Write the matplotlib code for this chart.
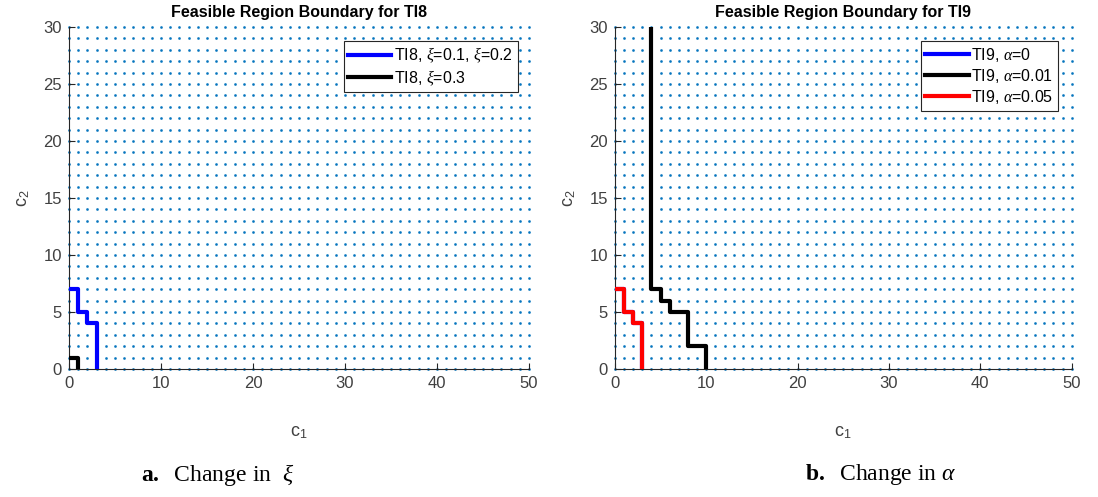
import numpy as np
import matplotlib
matplotlib.use("Agg")
import matplotlib.pyplot as plt

plt.rcParams["font.family"] = ["Liberation Sans", "DejaVu Sans"]
plt.rcParams["mathtext.fontset"] = "custom"
plt.rcParams["mathtext.rm"] = "Liberation Sans"
plt.rcParams["mathtext.it"] = "Liberation Serif:italic"
plt.rcParams["mathtext.bf"] = "Liberation Serif:bold"

MATLAB_BLUE = "#0072BD"
AXIS_GRAY = "#262626"

# feasible-region grid (integer points)
c1_grid = np.arange(0, 51)
c2_grid = np.arange(0, 31)

# boundary corners, drawn with steps-post
ti8_xi12_c1 = [0, 1, 2, 3]
ti8_xi12_c2 = [7, 5, 4, 0]
ti8_xi3_c1 = [0, 1]
ti8_xi3_c2 = [1, 0]

ti9_a0_c1 = [0, 1, 2, 3]
ti9_a0_c2 = [7, 5, 4, 0]
ti9_a001_c1 = [4, 4, 5, 6, 8, 10]
ti9_a001_c2 = [30, 7, 6, 5, 2, 0]
ti9_a005_c1 = [0, 1, 2, 3]
ti9_a005_c2 = [7, 5, 4, 0]

x_ticks = [0, 10, 20, 30, 40, 50]
y_ticks = [0, 5, 10, 15, 20, 25, 30]


def setup_axes(ax, title):
    gx, gy = np.meshgrid(c1_grid, c2_grid)
    ax.plot(gx.ravel(), gy.ravel(), ".", color=MATLAB_BLUE, markersize=2.0,
            alpha=0.85, zorder=1, clip_on=False)
    ax.set_xlim(0, 50)
    ax.set_ylim(0, 30)
    ax.set_xticks(x_ticks)
    ax.set_yticks(y_ticks)
    ax.spines["top"].set_visible(False)
    ax.spines["right"].set_visible(False)
    for side in ("left", "bottom"):
        ax.spines[side].set_color(AXIS_GRAY)
        ax.spines[side].set_linewidth(0.8)
    ax.tick_params(direction="in", length=4, width=0.8, colors=AXIS_GRAY,
                   labelsize=12, labelcolor="#404040", pad=5)
    ax.set_title(title, fontsize=11.5, fontweight="bold", pad=7)
    ax.set_xlabel(r"c$_\mathrm{1}$", fontsize=13, color="#404040", labelpad=24)
    ax.set_ylabel(r"c$_\mathrm{2}$", fontsize=13, color="#404040", labelpad=8)


def style_legend(leg):
    frame = leg.get_frame()
    frame.set_edgecolor(AXIS_GRAY)
    frame.set_linewidth(0.8)
    frame.set_alpha(1)


fig = plt.figure(figsize=(10.98, 4.97), dpi=100)
ax1 = fig.add_axes([0.0628, 0.2575, 0.419, 0.688])
ax2 = fig.add_axes([0.560, 0.2575, 0.416, 0.688])

setup_axes(ax1, "Feasible Region Boundary for TI8")
ax1.plot(ti8_xi12_c1, ti8_xi12_c2, drawstyle="steps-post", color="#0000FF",
         linewidth=3, label=r"TI8, $\xi$=0.1, $\xi$=0.2", zorder=3)
ax1.plot(ti8_xi3_c1, ti8_xi3_c2, drawstyle="steps-post", color="black",
         linewidth=3, label=r"TI8, $\xi$=0.3", zorder=3)
leg1 = ax1.legend(loc="upper right", bbox_to_anchor=(0.975, 0.96),
                  fontsize=11.5, frameon=True, fancybox=False,
                  handlelength=2.7, handletextpad=0.15, borderpad=0.3,
                  labelspacing=0.2, borderaxespad=0)
style_legend(leg1)

setup_axes(ax2, "Feasible Region Boundary for TI9")
ax2.plot(ti9_a0_c1, ti9_a0_c2, drawstyle="steps-post", color="#0000FF",
         linewidth=3, label=r"TI9, $\alpha$=0", zorder=3)
ax2.plot(ti9_a001_c1, ti9_a001_c2, drawstyle="steps-post", color="black",
         linewidth=3, label=r"TI9, $\alpha$=0.01", zorder=3)
ax2.plot(ti9_a005_c1, ti9_a005_c2, drawstyle="steps-post", color="#FF0000",
         linewidth=3, label=r"TI9, $\alpha$=0.05", zorder=3)
leg2 = ax2.legend(loc="upper right", bbox_to_anchor=(0.97, 0.96),
                  fontsize=11.5, frameon=True, fancybox=False,
                  handlelength=2.7, handletextpad=0.15, borderpad=0.3,
                  labelspacing=0.2, borderaxespad=0)
style_legend(leg2)

# sub-figure captions
fig.text(0.128, 0.045, r"$\mathbf{a.}$  Change in  $\xi$", fontsize=17,
         fontfamily="Liberation Serif", va="center")
fig.text(0.733, 0.045, r"$\mathbf{b.}$  Change in $\alpha$", fontsize=17,
         fontfamily="Liberation Serif", va="center")

fig.savefig("out.png", dpi=100)
